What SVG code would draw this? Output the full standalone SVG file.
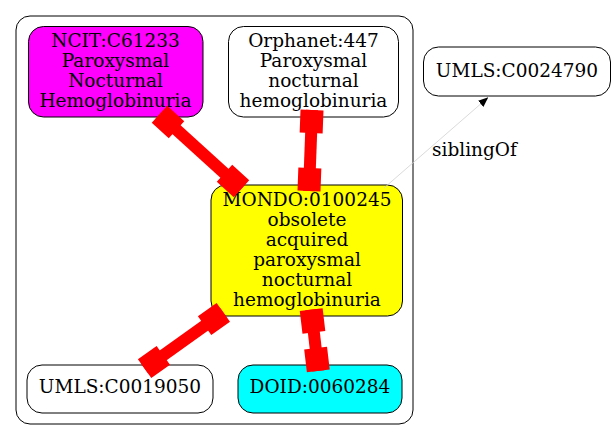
<svg xmlns="http://www.w3.org/2000/svg" width="616" height="440" viewBox="0 0 616 440">
<style>
text{font-family:"DejaVu Serif",serif;font-size:18.5px;fill:#000;text-anchor:middle}
.n{stroke:#000;stroke-width:1}
.e{stroke:#ff0000;fill:none;stroke-linecap:butt}
.l{stroke-width:12}
.b{stroke-width:23}
</style>
<defs>
<marker id="ah" markerWidth="10" markerHeight="8" refX="10" refY="4" orient="auto" markerUnits="userSpaceOnUse">
<path d="M0,0 L10,4 L0,8 Z" fill="#000"/>
</marker>
</defs>
<rect width="616" height="440" fill="#fff"/>
<g id="cluster">
<rect x="16" y="16" width="397" height="408" rx="14" fill="none" stroke="#000" stroke-width="1"/>
</g>
<g id="ncit">
<rect class="n" x="28.5" y="26.5" width="174.5" height="90.5" rx="15" fill="#ff00ff"/>
<text x="115.5" y="46.6">NCIT:C61233</text>
<text x="115.5" y="66.6">Paroxysmal</text>
<text x="115.5" y="86.6">Nocturnal</text>
<text x="115.5" y="106.6">Hemoglobinuria</text>
</g>
<g id="orphanet">
<rect class="n" x="228.5" y="26.5" width="170" height="90.5" rx="15" fill="#fff"/>
<text x="313.5" y="46.6">Orphanet:447</text>
<text x="313.5" y="66.6">Paroxysmal</text>
<text x="313.5" y="86.6">nocturnal</text>
<text x="313.5" y="106.6">hemoglobinuria</text>
</g>
<g id="mondo">
<rect class="n" x="211" y="185" width="191.5" height="131" rx="15" fill="#ffff00"/>
<text x="307" y="206">MONDO:0100245</text>
<text x="307" y="226">obsolete</text>
<text x="307" y="246">acquired</text>
<text x="307" y="266">paroxysmal</text>
<text x="307" y="286">nocturnal</text>
<text x="307" y="306">hemoglobinuria</text>
</g>
<g id="umls1">
<rect class="n" x="27" y="365" width="186" height="48" rx="15" fill="#fff"/>
<text x="120" y="393.3">UMLS:C0019050</text>
</g>
<g id="doid">
<rect class="n" x="238" y="365" width="164" height="48" rx="15" fill="#00ffff"/>
<text x="320" y="393.3">DOID:0060284</text>
</g>
<g id="umls2">
<rect class="n" x="423.5" y="47" width="187" height="49" rx="15" fill="#fff"/>
<text x="517" y="76.7">UMLS:C0024790</text>
</g>
<g id="edges">
<path class="e l" d="M159.5,114.3 L241.5,188.7"/>
<path class="e b" d="M159.5,114.3 L176.5,129.8 M224.5,173.3 L241.5,188.7"/>
<path class="e l" d="M312,110 L309,191"/>
<path class="e b" d="M312,110 L311.15,133 M309.85,168 L309,191"/>
<path class="e l" d="M223.3,312.3 L144.6,368.7"/>
<path class="e b" d="M223.3,312.3 L204.6,325.7 M163.3,355.3 L144.6,368.7"/>
<path class="e l" d="M311.2,309.6 L318.3,370.9"/>
<path class="e b" d="M311.2,309.6 L313.9,332.4 M315.6,348.1 L318.3,370.9"/>
<path d="M384,188 L488.3,97.3" stroke="#d0d0d0" stroke-width="0.8" fill="none" marker-end="url(#ah)"/>
<text x="432" y="156" style="text-anchor:start">siblingOf</text>
</g>
</svg>
